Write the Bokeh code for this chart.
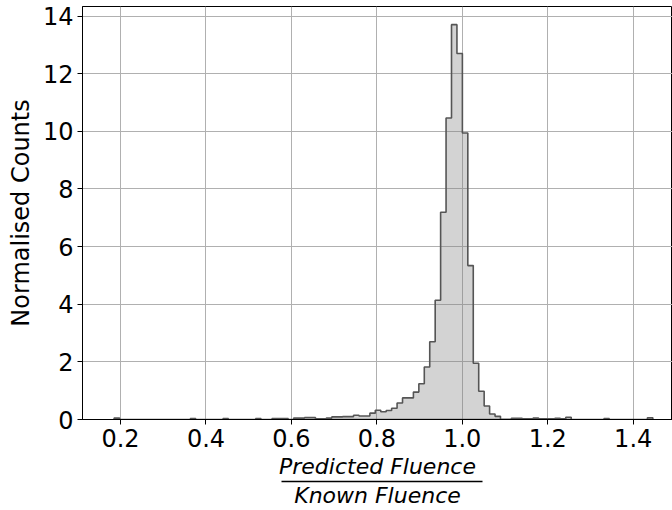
import numpy as np
from bokeh.plotting import figure
from bokeh.models import FixedTicker, NumeralTickFormatter, LinearAxis, Range1d
from bokeh.embed import file_html
from bokeh.resources import INLINE

# Histogram data (normalised counts)
bin_lo = 0.185
bin_hi = 1.446
counts = [
    0.05, 0, 0, 0, 0, 0, 0, 0, 0, 0,
    0, 0, 0, 0, 0.03, 0, 0, 0, 0, 0,
    0.03, 0, 0, 0, 0, 0, 0.03, 0, 0, 0.03,
    0.03, 0.03, 0, 0.05, 0.05, 0.07, 0.07, 0.02, 0.02, 0.05,
    0.09, 0.09, 0.10, 0.10, 0.15, 0.12, 0.12, 0.22, 0.32, 0.27,
    0.31, 0.39, 0.57, 0.75, 0.75, 0.95, 1.24, 1.82, 2.70, 4.14,
    7.19, 10.46, 13.70, 12.70, 9.94, 5.34, 1.95, 0.98, 0.47, 0.19,
    0.11, 0.01, 0.01, 0.04, 0.04, 0.02, 0.02, 0.05, 0.02, 0.02,
    0.02, 0.04, 0.02, 0.08, 0, 0, 0, 0, 0, 0,
    0.03, 0, 0, 0, 0, 0, 0, 0, 0.06,
]
x_ticks = [0.2, 0.4, 0.6, 0.8, 1.0, 1.2, 1.4]
y_ticks = [0, 2, 4, 6, 8, 10, 12, 14]
y_label = "Normalised Counts"
x_label_num = "Predicted Fluence"
x_label_den = "Known Fluence"

edges = np.linspace(bin_lo, bin_hi, len(counts) + 1)
xs = [edges[0]]
ys = [0.0]
for i, c in enumerate(counts):
    xs += [edges[i], edges[i + 1]]
    ys += [c, c]
xs.append(edges[-1])
ys.append(0.0)

FONT = "DejaVu Sans"

p = figure(width=672, height=510, output_backend="svg", toolbar_location=None,
           x_range=Range1d(0.111, 1.492), y_range=Range1d(0, 14.33))
p.min_border_left = 82
p.min_border_right = 0
p.min_border_top = 6
p.min_border_bottom = 88
p.background_fill_color = "white"
p.border_fill_color = "white"
p.outline_line_color = "black"
p.outline_line_width = 1

p.patch(xs, ys, fill_color="#808080", fill_alpha=0.35,
        line_color="#555555", line_width=1.6)

p.xaxis.ticker = FixedTicker(ticks=x_ticks)
p.yaxis.ticker = FixedTicker(ticks=y_ticks)
p.xaxis.formatter = NumeralTickFormatter(format="0.0")
p.yaxis.formatter = NumeralTickFormatter(format="0")
for ax in (p.xaxis, p.yaxis):
    ax.major_label_text_font = FONT
    ax.major_label_text_font_size = "24px"
    ax.major_label_text_color = "black"
    ax.axis_line_color = "black"
    ax.major_tick_line_color = "black"
    ax.major_tick_out = 5
    ax.major_tick_in = 0
    ax.minor_tick_out = 0
    ax.minor_tick_in = 0
    ax.major_label_standoff = 4
p.yaxis.axis_label = y_label
p.yaxis.axis_label_text_font = FONT
p.yaxis.axis_label_text_font_size = "24px"
p.yaxis.axis_label_text_font_style = "normal"
p.yaxis.axis_label_text_color = "black"
p.yaxis.axis_label_standoff = 5

# numerator of the fraction label
p.xaxis.axis_label = x_label_num
p.xaxis.axis_label_text_font = FONT
p.xaxis.axis_label_text_font_size = "22px"
p.xaxis.axis_label_text_font_style = "italic"
p.xaxis.axis_label_text_color = "black"
p.xaxis.axis_label_standoff = 4

# denominator + fraction bar (axis line limited by bounds)
den_axis = LinearAxis(ticker=FixedTicker(ticks=[]), bounds=(0.576, 1.0466),
                      axis_line_color="black", axis_line_width=1.3,
                      major_tick_out=0, major_tick_in=0,
                      minor_tick_out=0, minor_tick_in=0,
                      axis_label=x_label_den, axis_label_text_font=FONT,
                      axis_label_text_font_size="22px",
                      axis_label_text_font_style="italic",
                      axis_label_text_color="black",
                      axis_label_standoff=1)
p.add_layout(den_axis, "below")

p.xgrid.grid_line_color = "#b0b0b0"
p.ygrid.grid_line_color = "#b0b0b0"
p.xgrid.grid_line_width = 1
p.ygrid.grid_line_width = 1

open("out.html", "w").write(file_html(p, INLINE))
